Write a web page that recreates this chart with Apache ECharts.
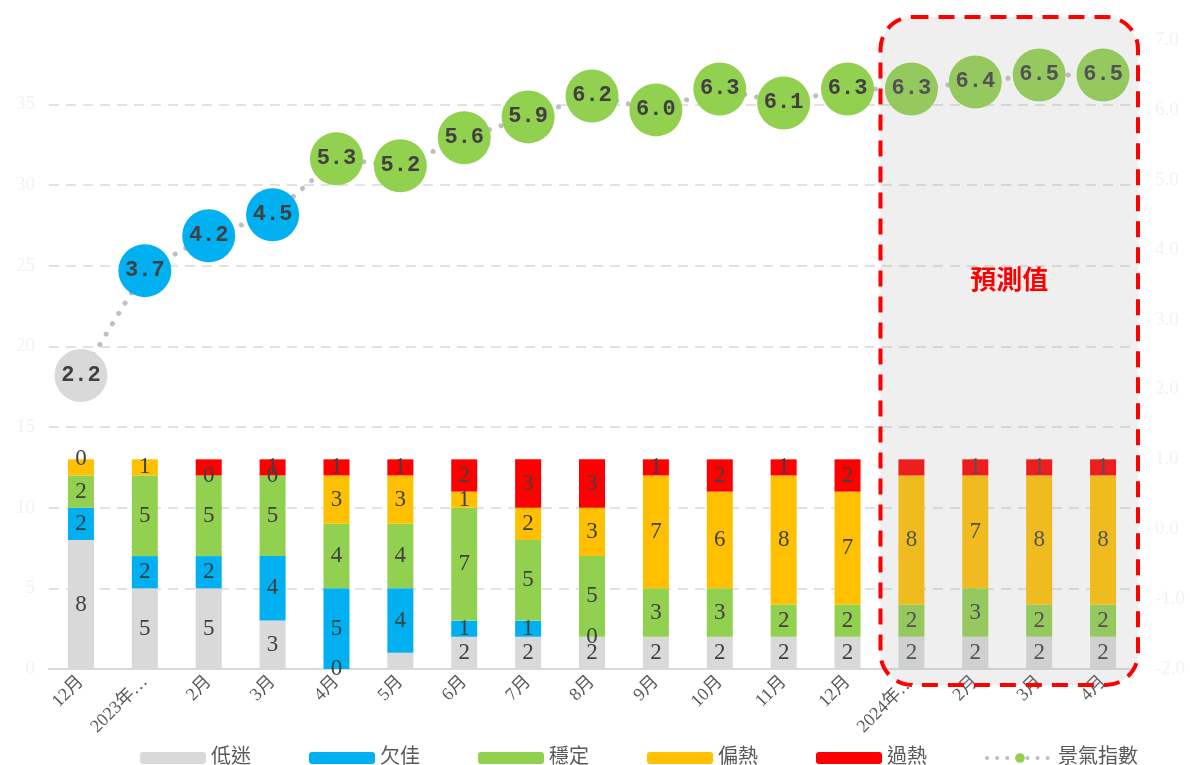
<!DOCTYPE html>
<html>
<head>
<meta charset="utf-8">
<title>景氣指數</title>
<script src="https://cdn.jsdelivr.net/npm/echarts@6/dist/echarts.min.js"></script>
<style>
  html, body { margin: 0; padding: 0; background: #fff; }
  #chart { width: 1190px; height: 765px; }
</style>
</head>
<body>
<div id="chart"></div>
<script>
// 月份
var months = ['12月', '2023年1月', '2月', '3月', '4月', '5月', '6月', '7月', '8月', '9月', '10月', '11月', '12月', '2024年1月', '2月', '3月', '4月']
// 各燈號項目數 (null = 無資料)
var lowData = [8, 5, 5, 3, 0, 1, 2, 2, 2, 2, 2, 2, 2, 2, 2, 2, 2]
var poorData = [2, 2, 2, 4, 5, 4, 1, 1, 0, null, null, null, null, null, null, null, null]
var stableData = [2, 5, 5, 5, 4, 4, 7, 5, 5, 3, 3, 2, 2, 2, 3, 2, 2]
var warmData = [1, 1, 0, 0, 3, 3, 1, 2, 3, 7, 6, 8, 7, 8, 7, 8, 8]
var hotData = [0, null, 1, 1, 1, 1, 2, 3, 3, 1, 2, 1, 2, 1, 1, 1, 1]
// 景氣指數
var indexData = [2.2, 3.7, 4.2, 4.5, 5.3, 5.2, 5.6, 5.9, 6.2, 6.0, 6.3, 6.1, 6.3, 6.3, 6.4, 6.5, 6.5]
// 預測起點
var forecastStart = 13
// 原圖未顯示的標籤 [系列, 月份]
var hiddenLabels = [[0, 5], [3, 0], [4, 2], [4, 13]]

var serif = "'Liberation Serif', 'Noto Sans CJK TC', serif"
var colors = ['#D9D9D9', '#00B0F0', '#92D050', '#FFC000', '#FF0000']
var names = ['低迷', '欠佳', '穩定', '偏熱', '過熱']
var barSets = [lowData, poorData, stableData, warmData, hotData]

function barSeries (i) {
  return {
    name: names[i],
    type: 'bar',
    stack: 'total',
    barWidth: 26,
    itemStyle: { color: colors[i] },
    label: {
      show: true,
      position: 'inside',
      color: '#404040',
      fontFamily: serif,
      fontSize: 23
    },
    data: barSets[i].map(function (v, j) {
      var hide = hiddenLabels.some(function (h) { return h[0] === i && h[1] === j })
      return hide ? { value: v, label: { show: false } } : v
    })
  }
}

var series = []
for (var i = 0; i < 5; i++) series.push(barSeries(i))
series.push({
  name: '景氣指數',
  type: 'line',
  yAxisIndex: 1,
  symbol: 'circle',
  symbolSize: 53,
  z: 5,
  lineStyle: { color: '#BFBFBF', width: 5, type: [0.1, 12], cap: 'round' },
  itemStyle: {
    color: function (p) {
      if (p.value < 3) return colors[0]
      if (p.value < 5) return colors[1]
      return colors[2]
    }
  },
  label: {
    show: true,
    position: 'inside',
    color: '#404040',
    fontFamily: "'Liberation Mono', monospace",
    fontWeight: 'bold',
    fontSize: 22,
    formatter: function (p) { return p.value.toFixed(1) }
  },
  data: indexData
})

var legendNames = names.map(function (n) { return { name: n } })
legendNames.push({
  name: '景氣指數',
  itemStyle: { color: colors[2] },
  lineStyle: { color: '#BFBFBF', width: 4, type: [0.1, 10], cap: 'round' }
})

var option = {
  animation: false,
  textStyle: { fontFamily: serif },
  grid: { left: 49, right: 55, top: 40, bottom: 96 },
  legend: {
    left: 135,
    top: 743,
    itemWidth: 66,
    itemHeight: 12,
    itemGap: 58,
    textStyle: { color: '#595959', fontSize: 20, fontFamily: serif },
    data: legendNames
  },
  xAxis: {
    type: 'category',
    data: months,
    axisLine: { lineStyle: { color: '#D9D9D9', width: 2 } },
    axisTick: { show: false },
    axisLabel: {
      rotate: 45,
      margin: 10,
      color: '#595959',
      fontSize: 18,
      fontFamily: serif,
      width: 75,
      overflow: 'truncate',
      ellipsis: '…'
    }
  },
  yAxis: [
    {
      type: 'value',
      min: 0,
      max: 39,
      interval: 5,
      axisLine: { show: false },
      axisTick: { show: false },
      axisLabel: { color: '#F2F2F2', fontSize: 19, fontFamily: serif, margin: 14, showMaxLabel: false },
      splitLine: { showMaxLine: false, lineStyle: { color: '#D9D9D9', width: 1.5, type: [10, 7] } }
    },
    {
      type: 'value',
      min: -2,
      max: 7,
      interval: 1,
      axisLine: { show: false },
      axisTick: { show: false },
      splitLine: { show: false },
      axisLabel: {
        color: '#F2F2F2',
        fontSize: 19,
        fontFamily: serif,
        margin: 20,
        formatter: function (v) { return v.toFixed(1) }
      }
    }
  ],
  series: series
}

var chart = echarts.init(document.getElementById('chart'))
chart.setOption(option)

// 預測值框
var x0 = chart.convertToPixel({ xAxisIndex: 0 }, forecastStart)
var x1 = chart.convertToPixel({ xAxisIndex: 0 }, months.length - 1)
var step = chart.convertToPixel({ xAxisIndex: 0 }, 1) - chart.convertToPixel({ xAxisIndex: 0 }, 0)
var boxLeft = x0 - step / 2 + 1
var boxRight = x1 + step / 2 + 3
chart.setOption({
  graphic: [
    {
      type: 'rect',
      z: 100,
      shape: { x: boxLeft, y: 17, width: boxRight - boxLeft, height: 668, r: 32 },
      style: {
        fill: 'rgba(168,168,168,0.18)',
        stroke: '#FF0000',
        lineWidth: 4,
        lineDash: [16, 10]
      },
      silent: true
    },
    {
      type: 'text',
      z: 101,
      x: (boxLeft + boxRight) / 2,
      y: 279,
      style: {
        text: '預測值',
        fill: '#FF0000',
        font: "bold 26px 'Noto Sans CJK TC', sans-serif",
        align: 'center',
        verticalAlign: 'middle'
      },
      silent: true
    }
  ]
})
</script>
</body>
</html>
